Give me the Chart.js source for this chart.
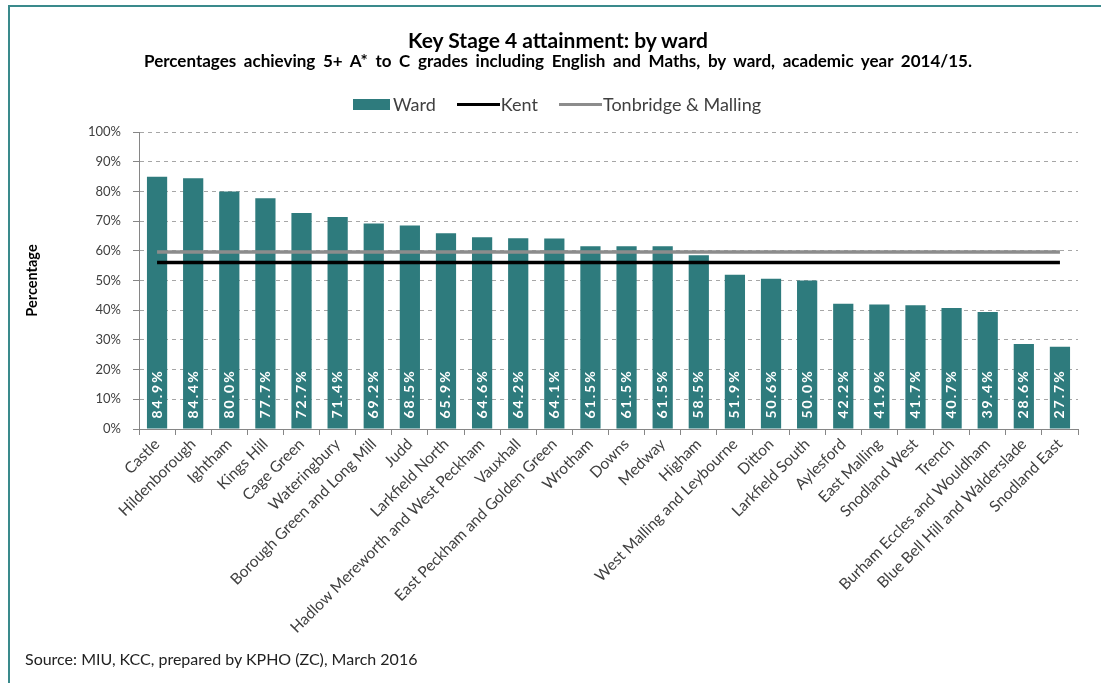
<!DOCTYPE html>
<html>
<head>
<meta charset="utf-8">
<title>Key Stage 4 attainment: by ward</title>
<script src="https://cdn.jsdelivr.net/npm/chart.js@4.4.0/dist/chart.umd.min.js"></script>
<style>
  body { margin: 0; background: #fff; font-family: Lato, "Open Sans", sans-serif; }
  #wrap { position: relative; width: 1101px; height: 683px; overflow: hidden; }
  #frame {
    position: absolute; left: 8px; top: 5px; right: 0; bottom: 0;
    border-top: 2px solid #3a8a8c; border-left: 2px solid #3a8a8c;
    pointer-events: none;
  }
  canvas { position: absolute; left: 0; top: 0; }
  .head { position: absolute; left: 15px; right: 0; text-align: center; color: #000; font-weight: bold; white-space: nowrap; }
  #title { top: 27px; font-size: 21px; }
  #subtitle { top: 50px; font-size: 17px; word-spacing: 3.5px; }
  #legend {
    position: absolute; top: 93px; left: 353px; display: flex; align-items: center;
    font-size: 18px; color: #404040;
  }
  #legend .box { width: 37px; height: 11px; background: #2e7b7d; margin-right: 3px; }
  #legend .line { width: 43px; height: 3px; margin-right: 1px; }
  #legend .item { display: flex; align-items: center; margin-right: 21px; }
  #source { position: absolute; left: 25px; top: 649px; font-size: 16px; color: #222; }
</style>
</head>
<body>
<div id="wrap">
  <canvas id="ks4Chart" width="1101" height="683"></canvas>
  <div id="title" class="head">Key Stage 4 attainment: by ward</div>
  <div id="subtitle" class="head">Percentages achieving 5+ A* to C grades including English and Maths, by ward, academic year 2014/15.</div>
  <div id="legend"></div>
  <div id="source">Source: MIU, KCC, prepared by KPHO (ZC), March 2016</div>
  <div id="frame"></div>
</div>
<script>
// Wards, highest to lowest
const wards = [
  'Castle', 'Hildenborough', 'Ightham', 'Kings Hill', 'Cage Green', 'Wateringbury',
  'Borough Green and Long Mill', 'Judd', 'Larkfield North', 'Hadlow Mereworth and West Peckham',
  'Vauxhall', 'East Peckham and Golden Green', 'Wrotham', 'Downs', 'Medway', 'Higham',
  'West Malling and Leybourne', 'Ditton', 'Larkfield South', 'Aylesford', 'East Malling',
  'Snodland West', 'Trench', 'Burham Eccles and Wouldham', 'Blue Bell Hill and Walderslade',
  'Snodland East'
];
// % achieving 5+ A*-C incl. English and Maths
const wardValues = [
  84.9, 84.4, 80.0, 77.7, 72.7, 71.4, 69.2, 68.5, 65.9, 64.6, 64.2, 64.1, 61.5,
  61.5, 61.5, 58.5, 51.9, 50.6, 50.0, 42.2, 41.9, 41.7, 40.7, 39.4, 28.6, 27.7
];
const kentAverage = 56.1;
const tonbridgeMallingAverage = 59.6;
const yTicks = [0, 10, 20, 30, 40, 50, 60, 70, 80, 90, 100];

const TEAL = '#2e7b7d';

// white rotated value labels sitting at the foot of each bar
const barValueLabels = {
  id: 'barValueLabels',
  afterDatasetsDraw(chart) {
    const ctx = chart.ctx;
    const meta = chart.getDatasetMeta(0);
    ctx.save();
    ctx.fillStyle = '#ffffff';
    ctx.font = 'bold 14px Lato';
    ctx.letterSpacing = '2px';
    ctx.textAlign = 'left';
    ctx.textBaseline = 'middle';
    meta.data.forEach((bar, i) => {
      ctx.save();
      ctx.translate(bar.x, bar.base - 10);
      ctx.rotate(-Math.PI / 2);
      ctx.fillText(wardValues[i].toFixed(1) + '%', 0, 0);
      ctx.restore();
    });
    ctx.restore();
  }
};

Chart.defaults.font.family = 'Lato';
Chart.defaults.color = '#404040';

const chart = new Chart('ks4Chart', {
  type: 'bar',
  data: {
    labels: wards,
    datasets: [{
      label: 'Ward',
      data: wardValues,
      backgroundColor: TEAL,
      barPercentage: 0.56,
      categoryPercentage: 1,
      order: 3
    }, {
      type: 'line',
      label: 'Kent',
      data: wards.map(() => kentAverage),
      borderColor: '#000000',
      borderWidth: 3.5,
      pointRadius: 0,
      order: 1
    }, {
      type: 'line',
      label: 'Tonbridge & Malling',
      data: wards.map(() => tonbridgeMallingAverage),
      borderColor: '#8c8c8c',
      borderWidth: 3.5,
      pointRadius: 0,
      order: 2
    }]
  },
  options: {
    responsive: false,
    animation: false,
    layout: { padding: { top: 132, left: 10, right: 23, bottom: 0 } },
    plugins: {
      legend: { display: false },
      title: { display: false },
      tooltip: { enabled: false }
    },
    scales: {
      x: {
        grid: { display: true, drawOnChartArea: false, drawTicks: true, tickLength: 6, color: '#868686', offset: true },
        border: { display: true, color: '#868686', width: 1 },
        ticks: {
          autoSkip: false, maxRotation: 45, minRotation: 45, padding: 0,
          font: { size: 15.5 }, color: '#404040'
        },
        afterFit: (scale) => { scale.height = 254; }
      },
      y: {
        min: 0,
        max: 100,
        afterBuildTicks: (scale) => { scale.ticks = yTicks.map(v => ({ value: v })); },
        grid: { color: '#a6a6a6', tickColor: '#868686', tickLength: 6 },
        border: { display: true, color: '#868686', width: 1, dash: [4, 4] },
        ticks: {
          padding: 12, font: { size: 13 }, color: '#404040',
          callback: (v) => v + '%'
        },
        title: {
          display: true, text: 'Percentage', color: '#000',
          font: { size: 14.5, weight: 'bold' }, padding: { top: 14, bottom: 0 }
        },
        afterFit: (scale) => { scale.width = 129; }
      }
    }
  },
  plugins: [barValueLabels]
});

// legend row, built from the chart's own datasets
const legendEl = document.getElementById('legend');
chart.data.datasets.forEach((ds) => {
  const item = document.createElement('div');
  item.className = 'item';
  const key = document.createElement('div');
  if (ds.type === 'line') {
    key.className = 'line';
    key.style.background = ds.borderColor;
  } else {
    key.className = 'box';
  }
  const text = document.createElement('span');
  text.textContent = ds.label;
  item.appendChild(key);
  item.appendChild(text);
  legendEl.appendChild(item);
});
</script>
</body>
</html>
